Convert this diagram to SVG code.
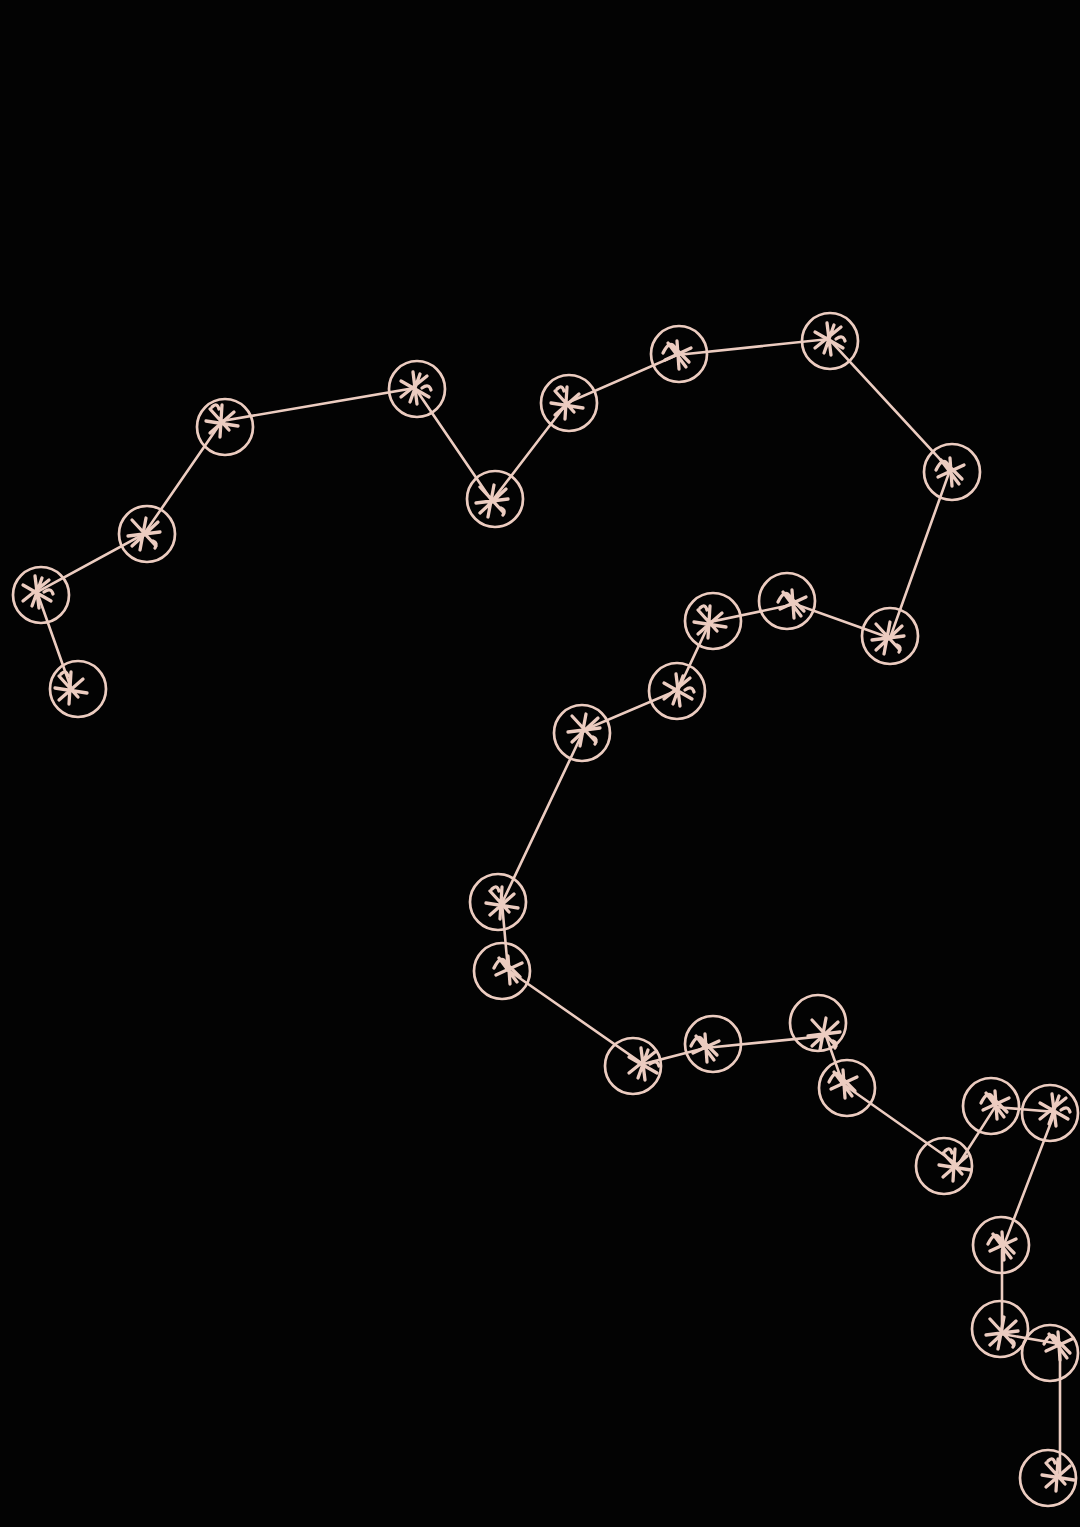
<svg xmlns="http://www.w3.org/2000/svg" width="1080" height="1527" viewBox="0 0 1080 1527">
<defs>
<style>
.ring{fill:none;stroke:#ecccc0;stroke-width:2.7}
.sc{fill:none;stroke:#ecccc0;stroke-width:3.3;stroke-linecap:round;stroke-linejoin:round}
.ln{fill:none;stroke:#ecccc0;stroke-width:2.6;stroke-linecap:round}
</style>
<path id="s1" d="M-12,-12 L7,9 M-16,0 L16,5 M-12,12 L12,-9 M0,-16 L-2,16 M-10,-14 q5,-5 7,2"/>
<path id="s2" d="M-14,-7 L14,9 M-2,-16 L2,16 M-14,9 L12,-12 M5,-14 L-5,14 M7,0 q7,-5 9,2"/>
<path id="s3" d="M-12,-14 L12,12 M-16,2 L16,-2 M2,-16 L-4,16 M-12,12 L14,-12 M9,7 q5,2 2,7"/>
<path id="s4" d="M-14,-2 q7,-14 12,-5 L12,7 M-12,5 L14,-7 M0,-14 L2,14 M-9,-12 L9,12"/>
</defs>
<rect width="1080" height="1527" fill="#030303"/>
<g id="connectors">
<polyline class="ln" points="71,688 37,592 144,534 222,421 415,388 492,501 567,403 677,355 829,339 950,470 890,638 795,604 710,622 678,690 584,730 502,903 508,970 643,1064 705,1048 826,1036 843,1084 958,1165 995,1107 1055,1112 1002,1250 1002,1334 1060,1344 1060,1478"/>
</g>
<g id="n1"><circle class="ring" cx="78" cy="689" r="28"/><use href="#s1" class="sc" x="71" y="688"/></g>
<g id="n2"><circle class="ring" cx="41" cy="595" r="28"/><use href="#s2" class="sc" x="37" y="592"/></g>
<g id="n3"><circle class="ring" cx="147" cy="534" r="28"/><use href="#s3" class="sc" x="144" y="534"/></g>
<g id="n4"><circle class="ring" cx="225" cy="427" r="28"/><use href="#s1" class="sc" x="222" y="421"/></g>
<g id="n5"><circle class="ring" cx="417" cy="389" r="28"/><use href="#s2" class="sc" x="415" y="388"/></g>
<g id="n6"><circle class="ring" cx="495" cy="499" r="28"/><use href="#s3" class="sc" x="492" y="501"/></g>
<g id="n7"><circle class="ring" cx="569" cy="403" r="28"/><use href="#s1" class="sc" x="567" y="403"/></g>
<g id="n8"><circle class="ring" cx="679" cy="354" r="28"/><use href="#s4" class="sc" x="677" y="355"/></g>
<g id="n9"><circle class="ring" cx="830" cy="341" r="28"/><use href="#s2" class="sc" x="829" y="339"/></g>
<g id="n10"><circle class="ring" cx="952" cy="472" r="28"/><use href="#s4" class="sc" x="950" y="472"/></g>
<g id="n11"><circle class="ring" cx="890" cy="636" r="28"/><use href="#s3" class="sc" x="888" y="638"/></g>
<g id="n12"><circle class="ring" cx="787" cy="601" r="28"/><use href="#s4" class="sc" x="792" y="604"/></g>
<g id="n13"><circle class="ring" cx="713" cy="621" r="28"/><use href="#s1" class="sc" x="710" y="622"/></g>
<g id="n14"><circle class="ring" cx="677" cy="691" r="28"/><use href="#s2" class="sc" x="678" y="690"/></g>
<g id="n15"><circle class="ring" cx="582" cy="733" r="28"/><use href="#s3" class="sc" x="584" y="730"/></g>
<g id="n16"><circle class="ring" cx="498" cy="902" r="28"/><use href="#s1" class="sc" x="502" y="903"/></g>
<g id="n17"><circle class="ring" cx="502" cy="971" r="28"/><use href="#s4" class="sc" x="508" y="970"/></g>
<g id="n18"><circle class="ring" cx="633" cy="1066" r="28"/><use href="#s2" class="sc" x="643" y="1064"/></g>
<g id="n19"><circle class="ring" cx="713" cy="1044" r="28"/><use href="#s4" class="sc" x="705" y="1048"/></g>
<g id="n20"><circle class="ring" cx="818" cy="1023" r="28"/><use href="#s3" class="sc" x="824" y="1034"/></g>
<g id="n21"><circle class="ring" cx="847" cy="1088" r="28"/><use href="#s4" class="sc" x="843" y="1084"/></g>
<g id="n22"><circle class="ring" cx="944" cy="1166" r="28"/><use href="#s1" class="sc" x="955" y="1165"/></g>
<g id="n23"><circle class="ring" cx="991" cy="1106" r="28"/><use href="#s4" class="sc" x="995" y="1105"/></g>
<g id="n24"><circle class="ring" cx="1050" cy="1113" r="28"/><use href="#s2" class="sc" x="1054" y="1110"/></g>
<g id="n25"><circle class="ring" cx="1001" cy="1245" r="28"/><use href="#s4" class="sc" x="1002" y="1246"/></g>
<g id="n26"><circle class="ring" cx="1000" cy="1329" r="28"/><use href="#s3" class="sc" x="1002" y="1333"/></g>
<g id="n27"><circle class="ring" cx="1050" cy="1353" r="28"/><use href="#s4" class="sc" x="1058" y="1346"/></g>
<g id="n28"><circle class="ring" cx="1048" cy="1478" r="28"/><use href="#s1" class="sc" x="1058" y="1475"/></g>
</svg>
